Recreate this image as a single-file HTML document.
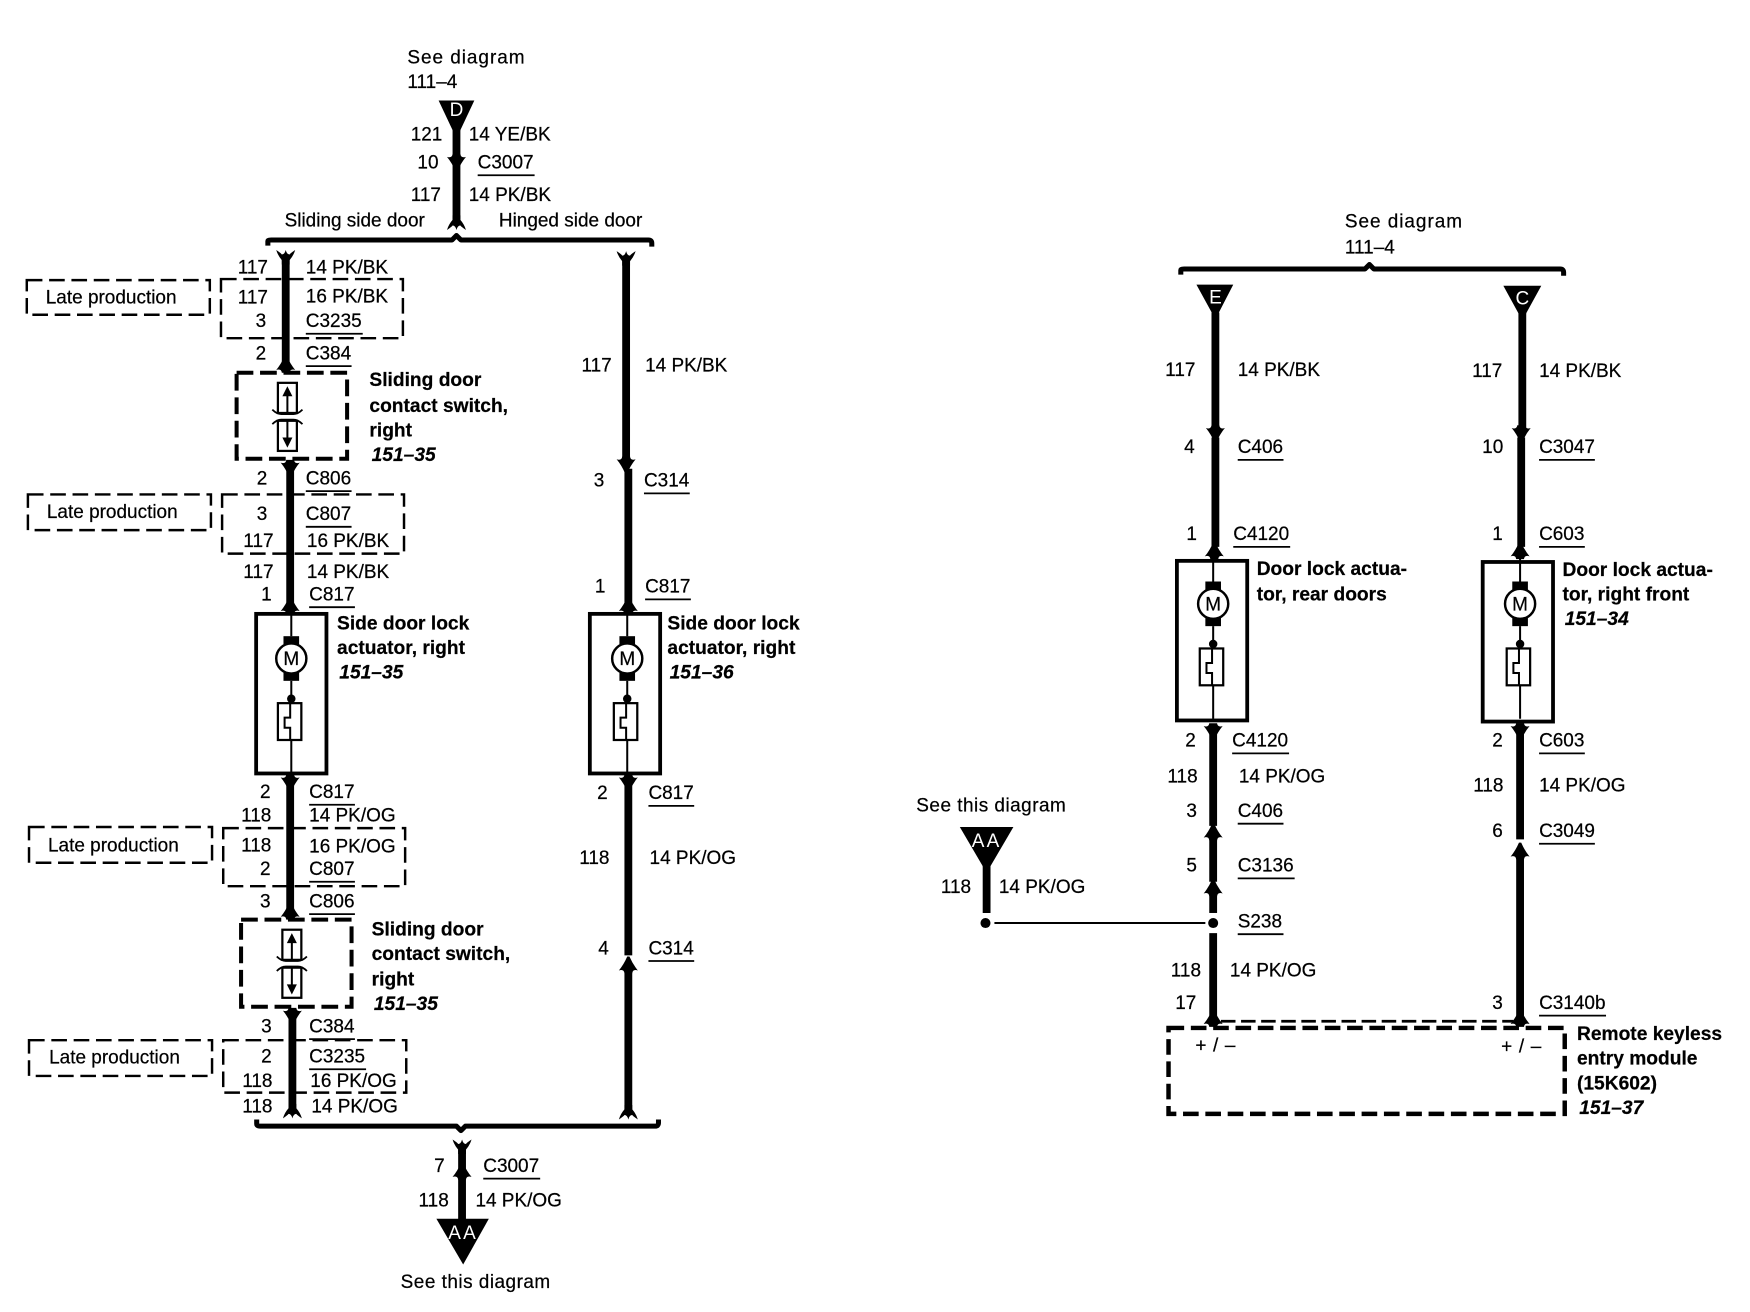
<!DOCTYPE html>
<html><head><meta charset="utf-8"><title>Door lock wiring diagram</title>
<style>
html,body{margin:0;padding:0;background:#fff}
svg{display:block}
text{font-family:"Liberation Sans",sans-serif;font-size:17px;fill:#000;stroke:#000;stroke-width:.2}
.b{font-weight:bold;font-size:17.2px}
.i{font-weight:bold;font-style:italic;font-size:17.2px}
.w{fill:#fff;stroke:none;font-size:17px;text-anchor:middle}
.m{font-size:17px;text-anchor:middle}
.wire{stroke:#000;stroke-width:7;fill:none}
.thin{stroke:#000;stroke-width:1.8;fill:none}
.bus{stroke:#000;stroke-width:4.5;fill:none;stroke-linejoin:round}
.u{stroke:#000;stroke-width:1.6;fill:none}
.d1{stroke:#000;stroke-width:2.2;fill:none;stroke-dasharray:14 6}
.d2{stroke:#000;stroke-width:3.6;fill:none;stroke-dasharray:15 6}
</style></head><body>
<svg width="1750" height="1312" viewBox="0 0 1568 1175.5" xmlns="http://www.w3.org/2000/svg">
<defs>
<path id="up" d="M-8.5,5.5 Q-4,4 -3.5,8 L3.5,8 Q4,4 8.5,5.5 Q4,0 1,-7 L-1,-7 Q-4,0 -8.5,5.5Z"/>
<path id="dn" d="M-8.5,-5.5 Q-4,-4 -3.5,-8 L3.5,-8 Q4,-4 8.5,-5.5 Q4,0 1,7 L-1,7 Q-4,0 -8.5,-5.5Z"/>
<path id="forkT" d="M-8.5,-5 Q-4,-2 -3.5,-1 Q-1,-1 0,-5 Q1,-1 3.5,-1 Q4,-2 8.5,-5 Q7,0 3.5,4 L3.5,8 L-3.5,8 L-3.5,4 Q-7,0 -8.5,-5Z"/>
<path id="forkB" d="M-8.5,5 Q-4,2 -3.5,1 Q-1,1 0,5 Q1,1 3.5,1 Q4,2 8.5,5 Q7,0 3.5,-4 L3.5,-8 L-3.5,-8 L-3.5,-4 Q-7,0 -8.5,5Z"/>
<g id="act">
<path class="thin" d="M0,-41V-20M0,20V36M0,73V103"/>
<rect x="-7" y="-20" width="14" height="8"/>
<rect x="-7" y="12" width="14" height="8"/>
<circle r="13.5" fill="#fff" stroke="#000" stroke-width="2.2"/>
<circle cy="36" r="3.8"/>
<rect x="-12" y="40" width="21" height="33" fill="#fff" stroke="#000" stroke-width="2"/>
<path d="M-1,40V53H-6V62H-1V73" fill="none" stroke="#000" stroke-width="1.8"/>
</g>
<g id="sw">
<rect x="-8" y="-13" width="17" height="27" fill="#fff" stroke="#000" stroke-width="2"/>
<path d="M-13,11 Q-9,15 -5,15 H6 Q10,15 14,11" fill="none" stroke="#000" stroke-width="1.6"/>
<path d="M0.5,14V-3" stroke="#000" stroke-width="1.8"/>
<path d="M0.5,-10L-4,-1H5Z"/>
<rect x="-8" y="21" width="17" height="27" fill="#fff" stroke="#000" stroke-width="2"/>
<path d="M-13,24 Q-9,20 -5,20 H6 Q10,20 14,24" fill="none" stroke="#000" stroke-width="1.6"/>
<path d="M0.5,21V38" stroke="#000" stroke-width="1.8"/>
<path d="M0.5,45L-4,36H5Z"/>
</g>
</defs>

<!-- top left -->
<text x="365" y="57" textLength="105">See diagram</text><text x="365" y="79">111–4</text>
<path d="M393,90H425L409,124Z"/><text class="w" x="409" y="104">D</text>
<path class="wire" d="M409,115V197"/>
<use href="#dn" x="409" y="146"/><use href="#forkB" x="409" y="201"/>
<text x="368" y="126">121</text><text x="420" y="126">14 YE/BK</text>
<text x="374" y="151">10</text><text x="428" y="151">C3007</text>
<text x="368" y="180">117</text><text x="420" y="180">14 PK/BK</text>
<text x="255" y="203">Sliding side door</text><text x="447" y="203">Hinged side door</text>
<path class="bus" d="M240,220V216Q240,215 243,215H405L409,211L413,215H581Q584,215 584,218V221"/>

<!-- left column -->
<path class="wire" d="M256,232V326"/><use href="#forkT" x="256" y="229"/><use href="#up" x="256" y="326"/>
<path class="wire" d="M260,420V542"/><use href="#dn" x="260" y="420"/><use href="#up" x="260" y="542"/>
<path class="wire" d="M260,702V815"/><use href="#dn" x="260" y="702"/><use href="#up" x="260" y="816"/>
<path class="wire" d="M262,912V996"/><use href="#dn" x="262" y="911"/><use href="#forkB" x="262" y="997"/>

<rect class="d1" x="24" y="251" width="164" height="31"/>
<rect class="d1" x="198" y="250" width="163" height="53"/>
<rect class="d2" x="212" y="334" width="99" height="77"/>
<rect class="d1" x="25" y="443" width="164" height="32"/>
<rect class="d1" x="199" y="443" width="163" height="53"/>
<rect class="d1" x="26" y="741" width="164" height="32"/>
<rect class="d1" x="200" y="742" width="163" height="52"/>
<rect class="d2" x="216" y="824" width="99" height="78"/>
<rect class="d1" x="26" y="932" width="164" height="32"/>
<rect class="d1" x="200" y="932" width="164" height="47"/>

<use href="#sw" x="257" y="356"/><use href="#sw" x="261" y="846"/>

<text x="213" y="245">117</text><text x="274" y="245">14 PK/BK</text>
<text x="41" y="272">Late production</text>
<text x="213" y="272">117</text><text x="274" y="271">16 PK/BK</text>
<text x="229" y="293">3</text><text x="274" y="293">C3235</text>
<text x="229" y="322">2</text><text x="274" y="322">C384</text>
<text class="b" x="331" y="346">Sliding door</text><text class="b" x="331" y="369">contact switch,</text><text class="b" x="331" y="391">right</text><text class="i" x="333" y="413">151–35</text>
<text x="230" y="434">2</text><text x="274" y="434">C806</text>
<text x="42" y="464">Late production</text>
<text x="230" y="466">3</text><text x="274" y="466">C807</text>
<text x="218" y="490">117</text><text x="275" y="490">16 PK/BK</text>
<text x="218" y="518">117</text><text x="275" y="518">14 PK/BK</text>
<text x="234" y="538">1</text><text x="277" y="538">C817</text>

<rect x="229.5" y="550" width="63" height="143" fill="none" stroke="#000" stroke-width="3.4"/>
<use href="#act" x="261" y="590"/><text class="m" x="261" y="596">M</text>
<text class="b" x="302" y="564">Side door lock</text><text class="b" x="302" y="586">actuator, right</text><text class="i" x="304" y="608">151–35</text>

<text x="233" y="715">2</text><text x="277" y="715">C817</text>
<text x="216" y="736">118</text><text x="277" y="736">14 PK/OG</text>
<text x="43" y="763">Late production</text>
<text x="216" y="763">118</text><text x="277" y="764">16 PK/OG</text>
<text x="233" y="784">2</text><text x="277" y="784">C807</text>
<text x="233" y="813">3</text><text x="277" y="813">C806</text>
<text class="b" x="333" y="838">Sliding door</text><text class="b" x="333" y="860">contact switch,</text><text class="b" x="333" y="883">right</text><text class="i" x="335" y="905">151–35</text>
<text x="234" y="925">3</text><text x="277" y="925">C384</text>
<text x="44" y="953">Late production</text>
<text x="234" y="952">2</text><text x="277" y="952">C3235</text>
<text x="217" y="974">118</text><text x="278" y="974">16 PK/OG</text>
<text x="217" y="997">118</text><text x="279" y="997">14 PK/OG</text>

<!-- middle column -->
<path class="wire" d="M561,232V414"/><use href="#forkT" x="561" y="230"/><use href="#dn" x="561" y="417"/>
<path class="wire" d="M563,420V542"/><use href="#up" x="563" y="542"/>
<path class="wire" d="M563,702V856"/><use href="#dn" x="563" y="702"/><use href="#up" x="563" y="864"/>
<path class="wire" d="M563,870V996"/><use href="#forkB" x="563" y="998"/>
<text x="521" y="333">117</text><text x="578" y="333">14 PK/BK</text>
<text x="532" y="436">3</text><text x="577" y="436">C314</text>
<text x="533" y="531">1</text><text x="578" y="531">C817</text>
<rect x="528.5" y="550" width="63" height="143" fill="none" stroke="#000" stroke-width="3.4"/>
<use href="#act" x="562" y="590"/><text class="m" x="562" y="596">M</text>
<text class="b" x="598" y="564">Side door lock</text><text class="b" x="598" y="586">actuator, right</text><text class="i" x="600" y="608">151–36</text>
<text x="535" y="716">2</text><text x="581" y="716">C817</text>
<text x="519" y="774">118</text><text x="582" y="774">14 PK/OG</text>
<text x="536" y="855">4</text><text x="581" y="855">C314</text>

<!-- bottom bus -->
<path class="bus" d="M230,1003V1007Q230,1009 233,1009H409L413,1013L417,1009H587Q590,1009 590,1006V1003"/>
<path class="wire" d="M414,1028V1100"/><use href="#forkT" x="414" y="1026"/><use href="#up" x="414" y="1049"/>
<path d="M391,1092H438L415,1133Z"/><text class="w" x="415" y="1110" letter-spacing="2">AA</text>
<text x="389" y="1050">7</text><text x="433" y="1050">C3007</text>
<text x="375" y="1081">118</text><text x="426" y="1081">14 PK/OG</text>
<text x="359" y="1154" textLength="134">See this diagram</text>

<!-- right -->
<text x="1205" y="204" textLength="105">See diagram</text><text x="1205" y="227">111–4</text>
<path class="bus" d="M1058,246V242Q1058,241 1061,241H1223L1227,237L1231,241H1398Q1401,241 1401,244V247"/>
<path d="M1072,255H1105L1089,286Z"/><text class="w" x="1089" y="272">E</text>
<path d="M1347,256H1381L1364,287Z"/><text class="w" x="1364" y="273">C</text>

<path class="wire" d="M1089,280V384"/><use href="#dn" x="1089" y="389"/>
<path class="wire" d="M1089,392V490"/><use href="#up" x="1088" y="493"/>
<path class="wire" d="M1364,280V384"/><use href="#dn" x="1363" y="389"/>
<path class="wire" d="M1363,392V490"/><use href="#up" x="1362" y="493"/>

<text x="1044" y="337">117</text><text x="1109" y="337">14 PK/BK</text>
<text x="1061" y="406">4</text><text x="1109" y="406">C406</text>
<text x="1063" y="484">1</text><text x="1105" y="484">C4120</text>
<text x="1319" y="338">117</text><text x="1379" y="338">14 PK/BK</text>
<text x="1328" y="406">10</text><text x="1379" y="406">C3047</text>
<text x="1337" y="484">1</text><text x="1379" y="484">C603</text>

<rect x="1054.5" y="502.5" width="63" height="143" fill="none" stroke="#000" stroke-width="3.4"/>
<use href="#act" x="1087" y="541"/><text class="m" x="1087" y="547">M</text>
<rect x="1328.5" y="503.5" width="63" height="143" fill="none" stroke="#000" stroke-width="3.4"/>
<use href="#act" x="1362" y="541"/><text class="m" x="1362" y="547">M</text>
<text class="b" x="1126" y="515">Door lock actua-</text><text class="b" x="1126" y="538">tor, rear doors</text>
<text class="b" x="1400" y="516">Door lock actua-</text><text class="b" x="1400" y="538">tor, right front</text><text class="i" x="1402" y="560">151–34</text>

<path class="wire" d="M1087,655V740"/><use href="#dn" x="1087" y="656"/><use href="#up" x="1087" y="745"/>
<path class="wire" d="M1087,748V790"/><use href="#up" x="1087" y="795"/>
<path class="wire" d="M1087,798V818"/>
<circle cx="1087" cy="827" r="4.5"/>
<path class="wire" d="M1087,836V912"/><use href="#up" x="1087" y="912"/>
<path class="wire" d="M1362,655V752"/><use href="#dn" x="1362" y="656"/><use href="#up" x="1362" y="762"/>
<path class="wire" d="M1362,768V912"/><use href="#up" x="1362" y="912"/>

<text x="1062" y="669">2</text><text x="1104" y="669">C4120</text>
<text x="1046" y="701">118</text><text x="1110" y="701">14 PK/OG</text>
<text x="1063" y="732">3</text><text x="1109" y="732">C406</text>
<text x="1063" y="781">5</text><text x="1109" y="781">C3136</text>
<text x="1109" y="831">S238</text>
<text x="1049" y="875">118</text><text x="1102" y="875">14 PK/OG</text>
<text x="1053" y="904">17</text>
<text x="1337" y="669">2</text><text x="1379" y="669">C603</text>
<text x="1320" y="709">118</text><text x="1379" y="709">14 PK/OG</text>
<text x="1337" y="750">6</text><text x="1379" y="750">C3049</text>
<text x="1337" y="904">3</text><text x="1379" y="904">C3140b</text>

<text x="821" y="727" textLength="134">See this diagram</text>
<path d="M860,741H908L884,782Z"/><text class="w" x="884" y="759" letter-spacing="2">AA</text>
<path class="wire" d="M884,775V818"/>
<circle cx="883" cy="827" r="4.5"/>
<path class="thin" d="M891,827H1080"/>
<text x="843" y="800">118</text><text x="895" y="800">14 PK/OG</text>

<path stroke="#000" stroke-width="2.4" stroke-dasharray="13 5" fill="none" d="M1094,915H1356"/>
<rect x="1047" y="921" width="355" height="77" fill="none" stroke="#000" stroke-width="4" stroke-dasharray="14 6"/>
<text x="1071" y="942" textLength="36">+ / –</text><text x="1345" y="943" textLength="36">+ / –</text>
<text class="b" x="1413" y="932">Remote keyless</text><text class="b" x="1413" y="954">entry module</text><text class="b" x="1413" y="976">(15K602)</text><text class="i" x="1415" y="998">151–37</text>

<!-- underlines -->
<path class="u" d="M428,157H479M274,299H325M274,328H315M274,440H315M274,472H315M277,544H318M277,721H318M277,790H318M277,819H318M277,931H318M277,958H328M433,1056H484M577,442H618M578,537H619M581,722H622M581,861H622M1109,412H1150M1105,490H1156M1104,675H1155M1109,738H1150M1109,787H1160M1109,837H1150M1379,412H1429M1379,490H1420M1379,675H1420M1379,756H1429M1379,910H1439"/>
</svg>
</body></html>
